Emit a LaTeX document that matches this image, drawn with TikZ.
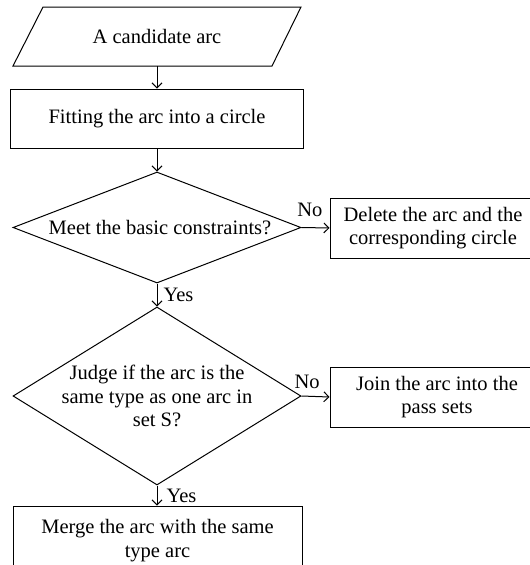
\documentclass[tikz,border=0pt]{standalone}
\usepackage{fontspec}
\setmainfont{Liberation Serif}
\usetikzlibrary{shapes.geometric,arrows.meta}
\begin{document}
\begin{tikzpicture}[x=1pt,y=-1pt,
  ff/.style={font=\fontsize{20.5}{23.5}\selectfont},
  box/.style={draw, line width=1pt, inner sep=0pt, align=center, ff},
  dec/.style={draw, diamond, inner sep=0pt, line width=1pt},
  txt/.style={align=center, inner sep=0pt, outer sep=0pt, ff},
  lbl/.style={inner sep=0pt, ff},
  arr/.style={-{Straight Barb[length=5pt,width=10pt]}, line width=1pt}]
\useasboundingbox (0,0) rectangle (530,565);
\clip (0,0) rectangle (530,565);
% input parallelogram
\draw[line width=1pt] (43,7) -- (301,7) -- (272,66) -- (13,66) -- cycle;
\node[txt, minimum height=59pt, minimum width=200pt] (in) at (157,36.5) {A candidate arc};
\node[box, minimum width=293pt, minimum height=59pt] (fit) at (157,118.5) {Fitting the arc into a circle};
\node[dec, minimum width=288pt, minimum height=111pt] (d1) at (157,227.5) {};
\node[txt] (t1) at (160,228) {Meet the basic constraints?};
\node[box, minimum width=206pt, minimum height=60pt] (del) at (433,228) {Delete the arc and the\\corresponding circle};
\node[dec, minimum width=288pt, minimum height=178pt] (d2) at (157,396) {};
\node[txt] (t2) at (157,396) {Judge if the arc is the\\same type as one arc in\\set S?};
\node[box, minimum width=214pt, minimum height=60pt] (join) at (437,397) {Join the arc into the\\pass sets};
\node[box, minimum width=289pt, minimum height=69pt] (merge) at (157.5,540.5) {Merge the arc with the same\\type arc};
% connectors
\draw[arr] (in.south) -- (fit.north);
\draw[arr] (fit.south) -- (d1.north);
\draw[arr] (d1.east) -- (del.west) node[lbl, pos=0.3, above=10pt] {No};
\draw[arr] (d1.south) -- (d2.north) node[lbl, midway, right=6pt] {Yes};
\draw[arr] (d2.east) -- (join.west) node[lbl, pos=0.2, above=7pt] {No};
\draw[arr] (d2.south) -- (d2.south |- merge.north) node[lbl, midway, right=9pt] {Yes};
\end{tikzpicture}
\end{document}
